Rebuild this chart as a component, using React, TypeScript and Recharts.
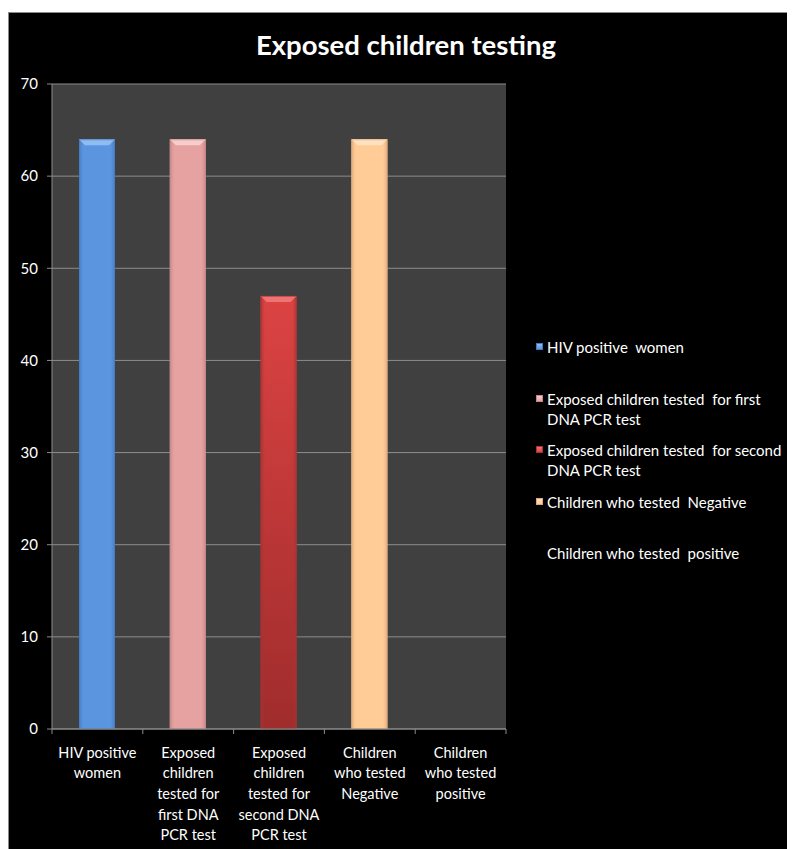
import { Bar, BarChart, CartesianGrid, XAxis, YAxis } from "recharts"

const categories = [
  "HIV positive women",
  "Exposed children tested for first DNA PCR test",
  "Exposed children tested for second DNA PCR test",
  "Children who tested Negative",
  "Children who tested positive",
]
const values = [64, 64, 47, 64, 0]
const axisLabelLines = [
  ["HIV positive", "women"],
  ["Exposed", "children", "tested for", "first DNA", "PCR test"],
  ["Exposed", "children", "tested for", "second DNA", "PCR test"],
  ["Children", "who tested", "Negative"],
  ["Children", "who tested", "positive"],
]
const legendLines = [
  ["HIV positive  women"],
  ["Exposed children tested  for first", "DNA PCR test"],
  ["Exposed children tested  for second", "DNA PCR test"],
  ["Children who tested  Negative"],
  ["Children who tested  positive"],
]
const yTicks = [0, 10, 20, 30, 40, 50, 60, 70]

const barColors = [
  { main: "#5b95e0", edge: "#4476bd", cap: "#8fbcf2", bottom: "#5b95e0" },
  { main: "#e6a1a1", edge: "#c68484", cap: "#f6cccc", bottom: "#e6a1a1" },
  { main: "#dc4343", edge: "#a83232", cap: "#ee7373", bottom: "#a02c2c" },
  { main: "#ffcb97", edge: "#dda878", cap: "#ffe1c0", bottom: "#ffcb97" },
  null,
]

const data = categories.map((name, i) => ({ name, value: values[i] }))

const W = 785
const H = 835
const M = { top: 71, right: 288, left: 0, bottom: 0 }
const Y_W = 43
const X_H = 119
const plotLeft = M.left + Y_W
const plotRight = W - M.right
const plotBottom = H - M.bottom - X_H
const band = (plotRight - plotLeft) / categories.length
const FONT = "Lato, 'Open Sans', sans-serif"

function BevelBar(props: any) {
  const { x, y, width, height, index } = props
  const c = barColors[index]
  if (!c || !height || height <= 0) return null
  const cap = 6
  return (
    <g>
      <rect x={x} y={y} width={width} height={height} fill={`url(#vg${index})`} />
      <rect x={x} y={y} width={width} height={height} fill={`url(#hg${index})`} />
      <polygon
        points={`${x},${y} ${x + width},${y} ${x + width - cap},${y + cap} ${x + cap},${y + cap}`}
        fill={c.cap}
      />
      <rect x={x + 0.5} y={y + 0.5} width={width - 1} height={height - 1} fill="none" stroke={c.edge} strokeOpacity={0.6} />
    </g>
  )
}

function CategoryTick(props: any) {
  const { x, payload } = props
  const i = payload.index
  const lines = axisLabelLines[i] || []
  const left = x - band / 2
  return (
    <g>
      <line x1={left} y1={plotBottom} x2={left} y2={plotBottom + 5} stroke="#8c8c8c" />
      {i === categories.length - 1 && (
        <line x1={left + band} y1={plotBottom} x2={left + band} y2={plotBottom + 5} stroke="#8c8c8c" />
      )}
      {lines.map((ln, k) => (
        <text
          key={k}
          x={x}
          y={plotBottom + 23 + k * 20.7}
          textAnchor="middle"
          dominantBaseline="central"
          fill="#ffffff"
          fontSize={14.5}
          fontFamily={FONT}
        >
          {ln}
        </text>
      ))}
    </g>
  )
}

export default function App() {
  return (
    <div style={{ paddingTop: 4 }}>
      <div
        style={{
          position: "relative",
          width: W + 2,
          height: H + 2,
          boxSizing: "border-box",
          background: "#000",
          border: "1px solid #8a8a8a",
          borderRight: "none",
          borderBottom: "none",
        }}
      >
        <div
          style={{
            position: "absolute",
            left: 197,
            width: 400,
            top: 15,
            textAlign: "center",
            color: "#fff",
            fontFamily: FONT,
            fontWeight: 700,
            fontSize: 27.5,
            lineHeight: "34px",
          }}
        >
          Exposed children testing
        </div>
        <BarChart width={W} height={H} data={data} margin={M}>
          <defs>
            {barColors.map((c, i) =>
              c ? (
                <linearGradient key={"v" + i} id={`vg${i}`} x1="0" y1="0" x2="0" y2="1">
                  <stop offset="0%" stopColor={c.main} />
                  <stop offset="100%" stopColor={c.bottom} />
                </linearGradient>
              ) : null
            )}
            {barColors.map((c, i) =>
              c ? (
                <linearGradient key={"h" + i} id={`hg${i}`} x1="0" y1="0" x2="1" y2="0">
                  <stop offset="0%" stopColor={c.edge} stopOpacity={0.7} />
                  <stop offset="12%" stopColor={c.edge} stopOpacity={0} />
                  <stop offset="88%" stopColor={c.edge} stopOpacity={0} />
                  <stop offset="100%" stopColor={c.edge} stopOpacity={0.7} />
                </linearGradient>
              ) : null
            )}
          </defs>
          <CartesianGrid vertical={false} fill="#404040" stroke="#8c8c8c" fillOpacity={1} />
          <XAxis
            dataKey="name"
            interval={0}
            height={X_H}
            tickLine={false}
            axisLine={{ stroke: "#8c8c8c" }}
            tick={<CategoryTick />}
          />
          <YAxis
            width={Y_W}
            domain={[0, 70]}
            ticks={yTicks}
            interval={0}
            tickSize={5}
            tickMargin={9}
            tickLine={{ stroke: "#8c8c8c" }}
            axisLine={{ stroke: "#8c8c8c" }}
            tick={{ fill: "#ffffff", fontSize: 15, fontFamily: FONT }}
          />
          <Bar dataKey="value" barSize={36} shape={<BevelBar />} isAnimationActive={false} />
        </BarChart>
        <div
          style={{
            position: "absolute",
            left: 527,
            top: 324,
            fontFamily: FONT,
            fontSize: 15,
            color: "#fff",
          }}
        >
          {legendLines.map((lines, i) => {
            const c = barColors[i]
            return (
              <div key={i} style={{ height: 51.5, display: "flex", alignItems: "flex-start" }}>
                <div
                  style={{
                    width: 7,
                    height: 7,
                    marginTop: 6,
                    marginRight: 4,
                    boxSizing: "border-box",
                    background: c ? `linear-gradient(${c.cap}, ${c.main})` : "transparent",
                    border: c ? `1px solid ${c.edge}` : "none",
                  }}
                />
                <div style={{ lineHeight: "20px", whiteSpace: "pre" }}>
                  {lines.map((ln, k) => (
                    <div key={k}>{ln}</div>
                  ))}
                </div>
              </div>
            )
          })}
        </div>
      </div>
    </div>
  )
}
